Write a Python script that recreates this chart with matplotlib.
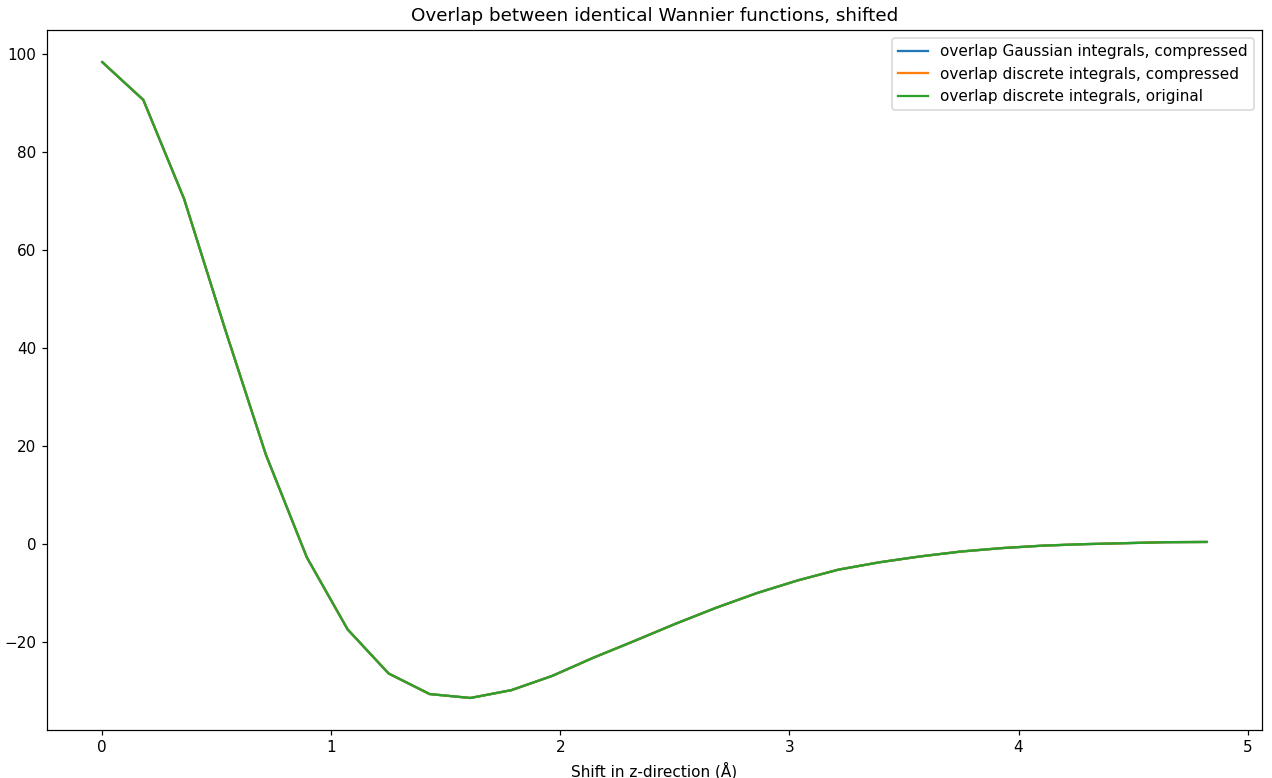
import numpy as np
import matplotlib
matplotlib.use("Agg")
import matplotlib.pyplot as plt

# shift values (Angstrom), 28 steps
shift = [0.0, 0.179, 0.357, 0.536, 0.714, 0.893, 1.071, 1.25, 1.429, 1.607,
         1.786, 1.964, 2.143, 2.321, 2.5, 2.679, 2.857, 3.036, 3.214, 3.393,
         3.571, 3.75, 3.929, 4.107, 4.286, 4.464, 4.643, 4.821]

# overlap values - the three curves coincide
overlap_gauss_compressed = [98.3, 90.6, 70.4, 43.8, 18.2, -2.8, -17.5, -26.5, -30.7, -31.5,
                            -29.9, -27.0, -23.3, -19.9, -16.4, -13.1, -10.1, -7.5, -5.3, -3.8,
                            -2.6, -1.6, -0.9, -0.4, -0.1, 0.1, 0.3, 0.35]
overlap_discrete_compressed = list(overlap_gauss_compressed)
overlap_discrete_original = list(overlap_gauss_compressed)

labels = ["overlap Gaussian integrals, compressed",
          "overlap discrete integrals, compressed",
          "overlap discrete integrals, original"]

DPI = 110


def plotData():
    fig = plt.figure(figsize=(1272 / DPI, 778 / DPI), dpi=DPI)
    ax = fig.add_subplot(111)
    fig.subplots_adjust(left=0.037, right=0.992, top=0.961, bottom=0.062)

    ax.plot(shift, overlap_gauss_compressed, label=labels[0])
    ax.plot(shift, overlap_discrete_compressed, label=labels[1])
    ax.plot(shift, overlap_discrete_original, label=labels[2])

    ax.set_xlabel("Shift in z-direction (Å)")
    ax.set_title("Overlap between identical Wannier functions, shifted")
    ax.legend(loc="upper right")
    fig.savefig("out.png", dpi=DPI)


if __name__ == '__main__':
    plotData()
